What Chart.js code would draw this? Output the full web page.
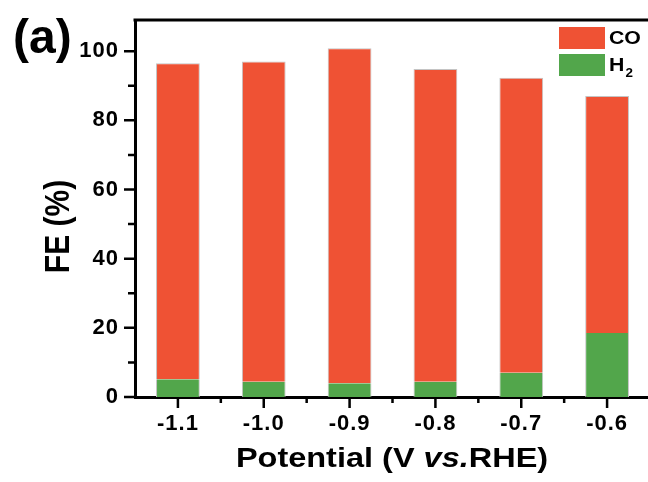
<!DOCTYPE html>
<html>
<head>
<meta charset="utf-8">
<script src="https://cdn.jsdelivr.net/npm/chart.js@4"></script>
<style>
  html, body { margin: 0; padding: 0; overflow: hidden; background: #fff; }
  #wrap { position: relative; width: 664px; height: 482px; }
</style>
</head>
<body>
<div id="wrap"><canvas id="myChart"></canvas></div>
<script>
  const potentials = ["-1.1", "-1.0", "-0.9", "-0.8", "-0.7", "-0.6"];
  const feH2 = [5.1, 4.4, 4.0, 4.4, 7.0, 18.5];
  const feCO = [91.4, 92.6, 96.8, 90.4, 85.3, 68.5];
  const yMajorTicks = [0, 20, 40, 60, 80, 100];
  const yMinorTicks = [10, 30, 50, 70, 90];

  const FONT = "'Liberation Sans', Arial, sans-serif";
  const RED = "#EF5234";
  const GREEN = "#52A64B";

  // ticks, frame, titles and legend drawn on top of the chart
  const decor = {
    id: "decor",
    beforeDraw(chart) {
      chart.ctx.letterSpacing = "1px";   // tick labels in the source are wide
    },
    afterDraw(chart) {
      const ctx = chart.ctx;
      const { left, right, top, bottom } = chart.chartArea;
      const x = chart.scales.x, y = chart.scales.y;
      ctx.save();
      ctx.letterSpacing = "0px";
      ctx.strokeStyle = "#000";
      ctx.fillStyle = "#000";

      // top frame line
      ctx.lineWidth = 3;
      ctx.beginPath();
      ctx.moveTo(left - 1.5, top);
      ctx.lineTo(right, top);
      ctx.stroke();

      // y ticks (outward)
      ctx.lineWidth = 2.5;
      ctx.beginPath();
      yMajorTicks.forEach(v => { const p = y.getPixelForValue(v); ctx.moveTo(left - 11, p); ctx.lineTo(left, p); });
      yMinorTicks.forEach(v => { const p = y.getPixelForValue(v); ctx.moveTo(left - 7, p); ctx.lineTo(left, p); });
      // x ticks: major at categories, minor between
      potentials.forEach((_, i) => {
        const p = x.getPixelForValue(i);
        ctx.moveTo(p, bottom); ctx.lineTo(p, bottom + 11);
        const q = p + (x.getPixelForValue(1) - x.getPixelForValue(0)) / 2;
        ctx.moveTo(q, bottom); ctx.lineTo(q, bottom + 6);
      });
      ctx.stroke();

      // panel label
      ctx.font = "bold 48px " + FONT;
      ctx.textAlign = "left";
      ctx.textBaseline = "alphabetic";
      ctx.fillText("(a)", 13, 53);

      // x title with italic "vs."
      const parts = [["Potential (V ", "bold"], ["vs.", "italic bold"], ["RHE)", "bold"]];
      ctx.save();
      ctx.translate(392, 467);
      ctx.scale(1.16, 1);
      let total = 0;
      parts.forEach(([t, s]) => { ctx.font = s + " 28px " + FONT; total += ctx.measureText(t).width; });
      let cx = -total / 2;
      parts.forEach(([t, s]) => { ctx.font = s + " 28px " + FONT; ctx.fillText(t, cx, 0); cx += ctx.measureText(t).width; });
      ctx.restore();

      // y title
      ctx.save();
      ctx.translate(69, 226.5);
      ctx.scale(1.15, 1);
      ctx.rotate(-Math.PI / 2);
      ctx.font = "bold 30px " + FONT;
      ctx.textAlign = "center";
      ctx.fillText("FE (%)", 0, 0);
      ctx.restore();

      // legend, CO first
      const items = chart.data.datasets.slice().reverse();
      items.forEach((ds, k) => {
        const by = 27 + k * 27;
        ctx.fillStyle = ds.backgroundColor;
        ctx.fillRect(559, by, 46, 22);
        ctx.fillStyle = "#000";
        ctx.save();
        ctx.translate(609, by + 17);
        ctx.scale(1.12, 1);
        const m = ds.label.match(/^(\D+)(\d*)$/);
        ctx.font = "bold 19px " + FONT;
        ctx.fillText(m[1], 0, 0);
        if (m[2]) {
          const w = ctx.measureText(m[1]).width;
          ctx.font = "bold 12px " + FONT;
          ctx.fillText(m[2], w + 1, 6);
        }
        ctx.restore();
      });
      ctx.restore();
    }
  };

  const tickFont = { family: FONT, size: 22, weight: "bold" };

  new Chart(document.getElementById("myChart"), {
    type: "bar",
    data: {
      labels: potentials,
      datasets: [
        {
          label: "H2",
          data: feH2,
          backgroundColor: GREEN,
          borderColor: "#c4c4c4",
          borderWidth: { left: 1, right: 1, top: 0, bottom: 0 },
          barPercentage: 0.51,
          categoryPercentage: 1,
        },
        {
          label: "CO",
          data: feCO,
          backgroundColor: RED,
          borderColor: "#c4c4c4",
          borderWidth: { left: 1, right: 1, top: 1, bottom: 0 },
          barPercentage: 0.51,
          categoryPercentage: 1,
        },
      ],
    },
    options: {
      responsive: true,
      maintainAspectRatio: false,
      animation: false,
      layout: { padding: { top: 20, right: 14, left: 0, bottom: 0 } },
      plugins: { legend: { display: false }, tooltip: { enabled: false } },
      scales: {
        x: {
          stacked: true,
          offset: true,
          grid: { display: false, drawTicks: false },
          border: { display: true, color: "#000", width: 3 },
          ticks: { color: "#000", font: tickFont, padding: 14, maxRotation: 0 },
          afterFit: s => { s.height = 85; s.paddingLeft = 0; s.paddingRight = 0; },
        },
        y: {
          stacked: true,
          min: 0,
          max: 109,
          grid: { display: false, drawTicks: false },
          border: { display: true, color: "#000", width: 3 },
          ticks: { color: "#000", font: tickFont, stepSize: 20, includeBounds: false, padding: 16 },
          afterFit: s => { s.width = 135; s.paddingTop = 0; s.paddingBottom = 0; },
        },
      },
    },
    plugins: [decor],
  });
</script>
</body>
</html>
